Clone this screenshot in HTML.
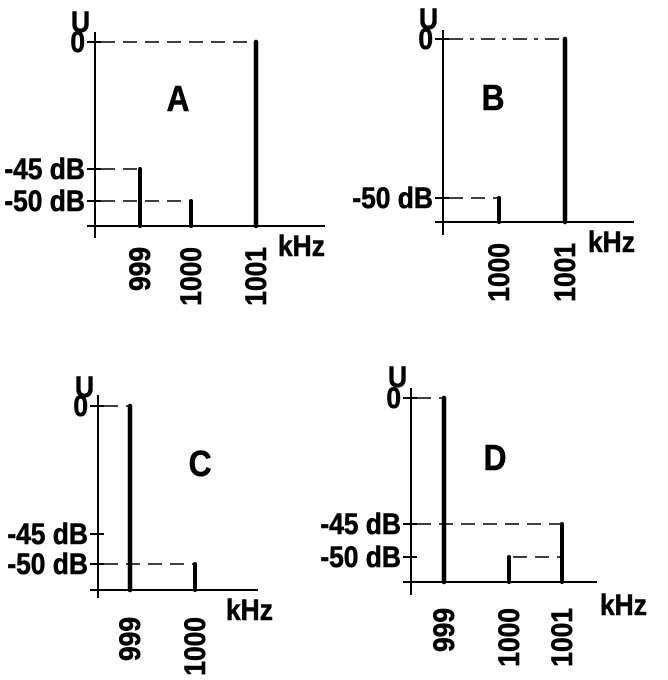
<!DOCTYPE html>
<html><head><meta charset="utf-8"><style>
html,body{margin:0;padding:0;background:#fff}
svg text{font-family:"Liberation Sans",Arial,sans-serif;font-weight:bold;fill:#000;stroke:#000;stroke-width:0.6}
</style></head><body>
<svg id="c" width="668" height="675" viewBox="0 0 668 675" xmlns="http://www.w3.org/2000/svg"></svg>
<script>
// data
const freqsA=[999,1000,1001], levelsA=[-45,-50,0];
const freqsB=[1000,1001], levelsB=[-50,0];
const freqsC=[999,1000], levelsC=[0,-50];
const freqsD=[999,1000,1001], levelsD=[0,-50,-45];
const ticksA=[0,-45,-50], ticksB=[0,-50], ticksC=[0,-45,-50], ticksD=[0,-45,-50];

const NS="http://www.w3.org/2000/svg";
const svg=document.getElementById('c');
function el(t,a,txt){const e=document.createElementNS(NS,t);for(const k in a)e.setAttribute(k,a[k]);if(txt!==undefined)e.textContent=txt;svg.appendChild(e);return e;}
function txt(x,y,s,size,anchor,rot){
  const tr='translate('+x+','+y+')'+(rot?' rotate(-90)':'')+' scale(0.88,1)';
  return el('text',{x:0,y:0,'font-size':size,'text-anchor':anchor||'start',transform:tr},s);
}

const panels=[
 {id:'a',label:'A',freqs:freqsA,levels:levelsA,ticks:ticksA,ax:95,top:32,bot:238,base:226,xEnd:325,
  ypos:{0:42,'-45':169,'-50':201},fx:{999:140,1000:191,1001:256},lab:[178,111],khz:[278,256],u:[71,32],dashdot:false,lo:21},
 {id:'b',label:'B',freqs:freqsB,levels:levelsB,ticks:ticksB,ax:443,top:30,bot:235,base:222,xEnd:634,
  ypos:{0:39,'-50':198},fx:{1000:499,1001:565},lab:[493,110],khz:[588,252],u:[419,29],dashdot:true,lo:21},
 {id:'c',label:'C',freqs:freqsC,levels:levelsC,ticks:ticksC,ax:98,top:395,bot:598,base:590,xEnd:258,
  ypos:{0:406,'-45':534,'-50':564},fx:{999:130,1000:195},lab:[200,476],khz:[226,620],u:[75,397],dashdot:false,lo:27},
 {id:'d',label:'D',freqs:freqsD,levels:levelsD,ticks:ticksD,ax:411,top:388,bot:595,base:582,xEnd:597,
  ypos:{0:398,'-45':524,'-50':557},fx:{999:444,1000:509,1001:562},lab:[495,470],khz:[600,615],u:[388,387],dashdot:false,lo:26}
];

panels.forEach(p=>{
  const y=v=>p.ypos[String(v)];
  const x=f=>p.fx[f];
  let e;
  e=el('line',{x1:p.ax,y1:p.top,x2:p.ax,y2:p.bot,stroke:'#000','stroke-width':2});
  
  e=el('line',{x1:p.ax-8,y1:p.base,x2:p.xEnd,y2:p.base,stroke:'#000','stroke-width':2});
  
  e=txt(p.u[0],p.u[1],'U',30);
  
  e=txt(p.khz[0],p.khz[1],'kHz',30);
  
  e=txt(p.lab[0],p.lab[1],p.label,36,'middle');
  
  p.ticks.forEach(t=>{
    const ty=y(t);
    e=el('line',{x1:p.ax-8,y1:ty,x2:p.ax+6,y2:ty,stroke:'#000','stroke-width':2});
    
    e=txt(p.ax-10,ty+10,t===0?'0':t+' dB',30,'end');
    
  });
  p.freqs.forEach((f,i)=>{
    const lv=p.levels[i], bx=x(f), by=y(lv);
    let x0=p.ax+6;
    if(p.id==='d'&&lv===-50) x0=x(1000)+4;
    const x1=(p.id==='d'&&lv===-50)?x(1001):bx;
    e=el('line',{x1:x0,y1:by,x2:x1,y2:by,stroke:'#000','stroke-width':1.5,'stroke-dasharray':(p.dashdot&&lv===0)?'14,7,4,7':'14,8'});
    
    e=el('line',{x1:bx,y1:by,x2:bx,y2:p.base,stroke:'#000','stroke-width':lv===0?4.5:4,'stroke-linecap':'round'});
    
    e=txt(bx+10,p.base+p.lo,String(f),30,'end',true);
    
  });
});
</script>
</body></html>
